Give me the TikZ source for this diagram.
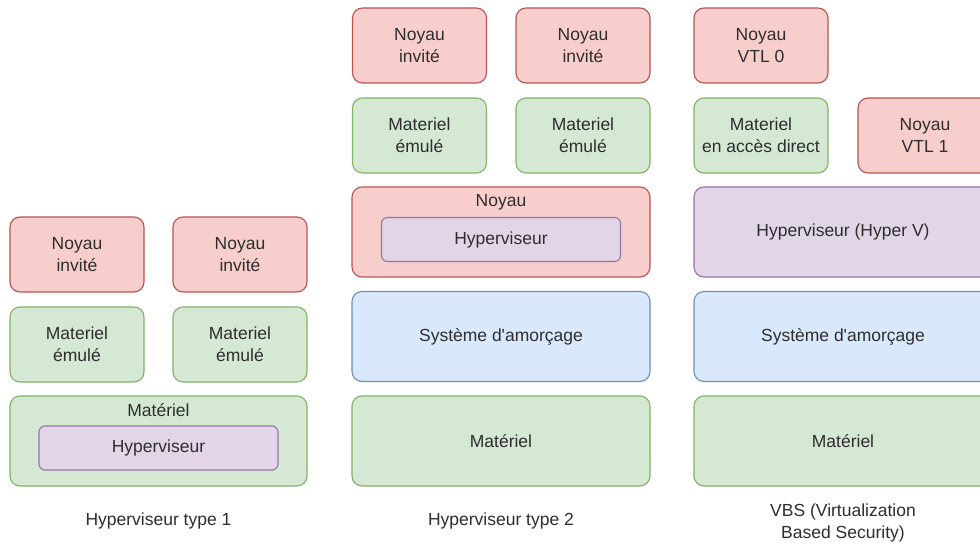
\documentclass[tikz,border=0pt]{standalone}
\usepackage{fontspec}
\setmainfont{Liberation Sans}
\begin{document}
\begin{tikzpicture}[x=1pt,y=-1pt,
  txtcol/.style={text=black!82},
  layer/.style={rounded corners=10pt, line width=1.1pt, align=center, txtcol,
    font=\fontsize{17.5}{22}\selectfont, inner sep=0pt},
  redbox/.style={layer, draw={rgb,255:red,184;green,84;blue,80}, fill={rgb,255:red,248;green,206;blue,204}},
  greenbox/.style={layer, draw={rgb,255:red,130;green,179;blue,102}, fill={rgb,255:red,213;green,232;blue,212}},
  purplebox/.style={layer, draw={rgb,255:red,150;green,115;blue,166}, fill={rgb,255:red,225;green,213;blue,231}},
  bluebox/.style={layer, draw={rgb,255:red,108;green,142;blue,191}, fill={rgb,255:red,218;green,232;blue,252}},
  small/.style={minimum width=134pt, minimum height=75pt},
  wide/.style={minimum width=298pt, minimum height=90pt},
  inner/.style={minimum width=239pt, minimum height=44pt, rounded corners=6pt},
  caption/.style={txtcol, align=center, font=\fontsize{17.5}{22}\selectfont, inner sep=0pt},
]
\useasboundingbox (0,0) rectangle (980,545);
\clip (0,0) rectangle (980,545);
\fill[white] (0,0) rectangle (980,545);

% Type 1 hypervisor stack
\node[redbox, small] (t1k1) at (77,254.5) {Noyau\\invité};
\node[redbox, small] (t1k2) at (240,254.5) {Noyau\\invité};
\node[greenbox, small] (t1m1) at (77,344.5) {Materiel\\émulé};
\node[greenbox, small] (t1m2) at (240,344.5) {Materiel\\émulé};
\node[greenbox, wide, minimum width=297pt] (t1hw) at (158.5,441) {};
\node[caption] (t1hwt) at (158.5,410) {Matériel};
\node[purplebox, inner] (t1hv) at (158.5,448) {Hyperviseur};
\node[caption] (t1cap) at (158.5,521) {Hyperviseur type 1};

% Type 2 hypervisor stack
\node[redbox, small] (t2k1) at (419.5,45.5) {Noyau\\invité};
\node[redbox, small] (t2k2) at (583,45.5) {Noyau\\invité};
\node[greenbox, small] (t2m1) at (419.5,135.5) {Materiel\\émulé};
\node[greenbox, small] (t2m2) at (583,135.5) {Materiel\\émulé};
\node[redbox, wide] (t2os) at (501,232) {};
\node[caption] (t2ost) at (501,202) {Noyau};
\node[purplebox, inner] (t2hv) at (501,239.5) {Hyperviseur};
\node[bluebox, wide] (t2boot) at (501,336.5) {Système d\textquotesingle amorçage};
\node[greenbox, wide] (t2hw) at (501,441) {Matériel};
\node[caption] (t2cap) at (501,521) {Hyperviseur type 2};

% Virtualization based security stack
\node[redbox, small] (vk0) at (761,45.5) {Noyau\\VTL 0};
\node[greenbox, small] (vmd) at (761,135.5) {Materiel\\en accès direct};
\node[redbox, small] (vk1) at (925,135.5) {Noyau\\VTL 1};
\node[purplebox, wide] (vhv) at (843,232) {Hyperviseur (Hyper V)};
\node[bluebox, wide] (vboot) at (843,336.5) {Système d\textquotesingle amorçage};
\node[greenbox, wide] (vhw) at (843,441) {Matériel};
\node[caption] (vcap) at (843,523) {VBS (Virtualization\\Based Security)};
\end{tikzpicture}
\end{document}
